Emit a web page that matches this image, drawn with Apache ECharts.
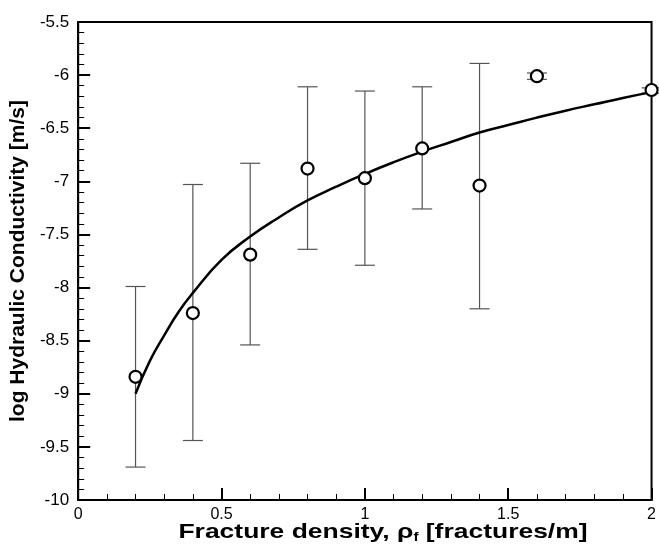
<!DOCTYPE html>
<html>
<head>
<meta charset="utf-8">
<script src="https://cdn.jsdelivr.net/npm/echarts@6/dist/echarts.min.js"></script>
<style>html,body{margin:0;padding:0;background:#fff;}#c{width:659px;height:546px;}</style>
</head>
<body>
<div id="c"></div>
<script>
// Measured data (fracture density vs log hydraulic conductivity)
const densities = [0.2, 0.4, 0.6, 0.8, 1.0, 1.2, 1.4, 1.6, 2.0];
const meanLogK  = [-8.84, -8.24, -7.69, -6.88, -6.97, -6.69, -7.04, -6.01, -6.14];
const upperLogK = [-7.99, -7.03, -6.83, -6.11, -6.15, -6.11, -5.89, -5.98, -6.12];
const lowerLogK = [-9.69, -9.44, -8.54, -7.64, -7.79, -7.26, -8.20, -6.04, -6.17];

// Fitted curve
const fitX = [0.2, 0.25, 0.3, 0.35, 0.4, 0.5, 0.6, 0.7, 0.8, 0.9, 1.0, 1.1, 1.2, 1.3, 1.4, 1.5, 1.6, 1.7, 1.8, 1.9, 2.0];
const fitY = [-9.0, -8.69, -8.45, -8.23, -8.05, -7.74, -7.52, -7.34, -7.18, -7.05, -6.93, -6.82, -6.72, -6.63, -6.54, -6.47, -6.40, -6.335, -6.275, -6.215, -6.16];

// Axis ticks
const xTicks = [0, 0.5, 1, 1.5, 2];
const yTicks = [-10, -9.5, -9, -8.5, -8, -7.5, -7, -6.5, -6, -5.5];

const chart = echarts.init(document.getElementById('c'), null, {renderer: 'canvas'});
const FONT = '"Liberation Sans", Arial, sans-serif';

const errData = densities.map((d, i) => [d, lowerLogK[i], upperLogK[i]]);
const ptData = densities.map((d, i) => [d, meanLogK[i]]);
const fitData = fitX.map((x, i) => [x, fitY[i]]);

chart.setOption({
  animation: false,
  backgroundColor: '#fff',
  grid: {left: 76, right: 2, top: 22, bottom: 46, show: true, borderColor: '#000', borderWidth: 2, backgroundColor: 'transparent'},
  graphic: [{
    type: 'text',
    x: 383, y: 532,
    scaleX: 1.26,
    style: {
      text: 'Fracture density, ρ{sub|f} [fractures/m]',
      fill: '#000',
      font: 'bold 21px ' + FONT,
      align: 'center',
      verticalAlign: 'middle',
      rich: {sub: {fontSize: 12, fontWeight: 'bold', fontFamily: FONT, fill: '#000', padding: [12, 0, 0, 0]}}
    }
  }],
  xAxis: {
    type: 'value', min: xTicks[0], max: xTicks[xTicks.length - 1], interval: 0.5,
    axisLine: {show: true, onZero: false, lineStyle: {color: '#000', width: 2}},
    axisTick: {show: true, inside: true, length: 12, lineStyle: {color: '#000', width: 2}},
    minorTick: {show: true, splitNumber: 5, length: 6, lineStyle: {color: '#000', width: 1}},
    splitLine: {show: false},
    axisLabel: {color: '#000', fontSize: 16, fontFamily: FONT, margin: 7}
  },
  yAxis: {
    type: 'value', min: yTicks[0], max: yTicks[yTicks.length - 1], interval: 0.5,
    axisLine: {show: true, onZero: false, lineStyle: {color: '#000', width: 2}},
    axisTick: {show: true, inside: true, length: 12, lineStyle: {color: '#000', width: 2}},
    minorTick: {show: true, splitNumber: 5, length: 6, lineStyle: {color: '#000', width: 1}},
    splitLine: {show: false},
    axisLabel: {color: '#000', fontSize: 17, fontFamily: FONT, margin: 9},
    name: 'log Hydraulic Conductivity [m/s]',
    nameLocation: 'middle', nameGap: 36,
    nameTextStyle: {color: '#000', fontSize: 21, fontWeight: 'bold', fontFamily: FONT}
  },
  series: [
    {
      type: 'custom',
      data: errData,
      z: 2,
      renderItem: function (params, api) {
        const x = api.value(0);
        const lo = api.coord([x, api.value(1)]);
        const hi = api.coord([x, api.value(2)]);
        const hw = 10;
        const style = {stroke: '#555', lineWidth: 1.2};
        return {
          type: 'group',
          children: [
            {type: 'line', shape: {x1: lo[0], y1: lo[1], x2: hi[0], y2: hi[1]}, style: style},
            {type: 'line', shape: {x1: lo[0] - hw, y1: lo[1], x2: lo[0] + hw, y2: lo[1]}, style: style},
            {type: 'line', shape: {x1: hi[0] - hw, y1: hi[1], x2: hi[0] + hw, y2: hi[1]}, style: style}
          ]
        };
      }
    },
    {
      type: 'line',
      data: fitData,
      smooth: true,
      showSymbol: false,
      symbol: 'none',
      z: 3,
      lineStyle: {color: '#000', width: 2.5}
    },
    {
      type: 'scatter',
      data: ptData,
      symbol: 'circle',
      symbolSize: 12,
      z: 4,
      itemStyle: {color: '#fff', borderColor: '#000', borderWidth: 2.2, opacity: 1}
    }
  ]
});
</script>
</body>
</html>
